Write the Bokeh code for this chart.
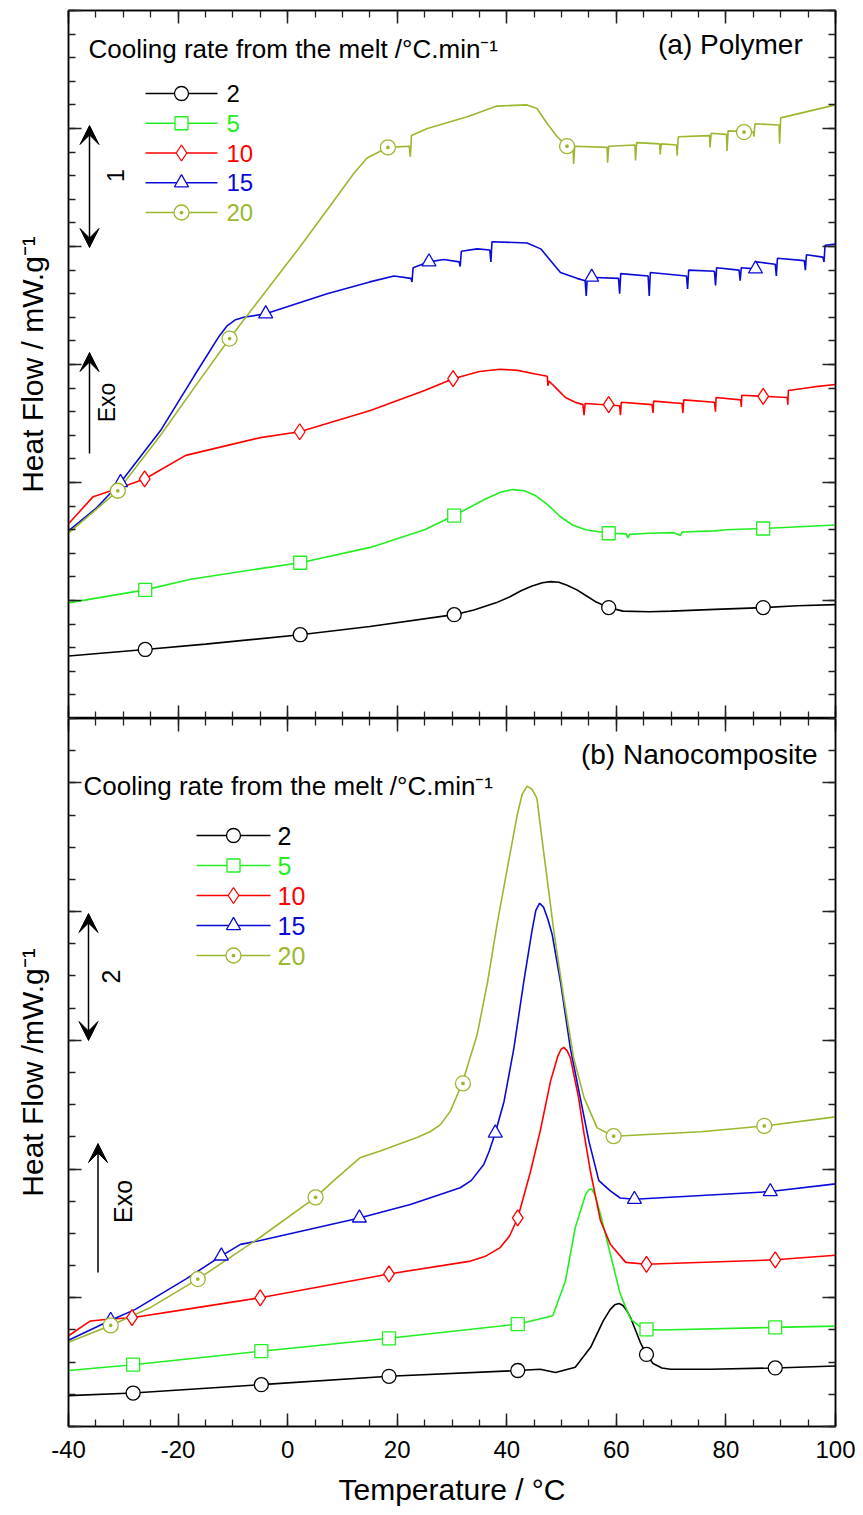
import numpy as np
from bokeh.plotting import figure
from bokeh.models import (Range1d, LinearAxis, SingleIntervalTicker, Label, Arrow,
                          VeeHead, CustomJSTickFormatter)
from bokeh.layouts import column
from bokeh.embed import file_html
from bokeh.resources import INLINE

# ---------------- data ----------------
rates = ["2", "5", "10", "15", "20"]
colors = ["#000000", "#22EE22", "#FF0000", "#0A0AD8", "#9AB82E"]
marker_types = ["circle", "square", "diamond", "triangle", "circle_dot"]
x_ticks = [-40, -20, 0, 20, 40, 60, 80, 100]

# (a) Polymer
a2_T = [-40, -26, -15, 2.3, 15, 30.4, 34, 38, 40.5, 42.5, 44.5, 46.5, 48, 49.5, 51, 52.8, 54.5, 56.2, 58.6, 61.2, 66, 70,
        78, 86.8, 93, 100]
a2_H = [0.53, 0.585, 0.63, 0.71, 0.78, 0.88, 0.92, 0.98, 1.03, 1.08, 1.12, 1.15, 1.16, 1.155, 1.13, 1.09, 1.04, 0.99, 0.94,
        0.91, 0.905, 0.91, 0.925, 0.94, 0.955, 0.965]
a2_mT = [-26, 2.3, 30.4, 58.6, 86.8]
a2_mH = [0.585, 0.71, 0.88, 0.94, 0.94]

a5_T = [-40, -26, -17.7, -5, 2.3, 15.1, 25, 30.4, 36.1, 39, 41.1, 43.2, 45.2, 47.5, 49.8, 52, 54.4, 58.6, 61.8, 62.1, 62.4, 66,
        70.5, 71.7, 72, 78, 80, 86.8, 100]
a5_H = [0.98, 1.09, 1.18, 1.27, 1.32, 1.45, 1.60, 1.72, 1.86, 1.92, 1.94, 1.93, 1.89, 1.81, 1.71, 1.64, 1.60, 1.57, 1.565, 1.53,
        1.56, 1.57, 1.575, 1.55, 1.58, 1.59, 1.60, 1.61, 1.64]
a5_mT = [-26, 2.3, 30.4, 58.6, 86.8]
a5_mH = [1.09, 1.32, 1.72, 1.57, 1.61]

a10_T = [-40, -35.5, -31, -26.1, -18.6, -12.3, -5, 2.2, 15.1, 25, 30.2, 35, 38.8, 42, 45.2, 47.4, 47.5, 47.7, 49, 50.7,
         52.5, 53.9, 54.1, 54.3, 60.6, 60.75, 60.9, 66.5, 66.7, 66.8, 72.0, 72.15, 72.3, 77.9, 78.1, 78.2, 82.7, 82.8,
         82.9, 91.2, 91.3, 91.4, 96, 100]
a10_H = [1.65, 1.88, 1.95, 2.03, 2.23, 2.30, 2.38, 2.43, 2.61, 2.78, 2.88, 2.94, 2.96, 2.95, 2.92, 2.90, 2.82, 2.86, 2.80, 2.72,
         2.68, 2.66, 2.57, 2.67, 2.65, 2.57, 2.68, 2.66, 2.59, 2.69, 2.67, 2.59, 2.70, 2.68, 2.60, 2.72, 2.70, 2.64,
         2.74, 2.72, 2.66, 2.78, 2.81, 2.83]
a10_mT = [-26.1, 2.2, 30.2, 58.6, 86.8]
a10_mH = [2.03, 2.43, 2.88, 2.66, 2.73]

a15_T = [-40, -35, -30.5, -23.2, -17.1, -12.5, -11, -9.5, -8, -4.0, 7.2, 15, 19.4, 22.5, 22.7, 22.9, 25.8, 28.5, 31.3, 31.5,
         31.7, 34.6, 36.9, 37.1, 37.3, 43.7, 46.2, 48.0, 49.8, 52.8, 54.3, 54.5, 54.7, 60.4, 60.6, 60.8, 65.8, 66.0,
         66.2, 72.8, 73.0, 73.2, 77.9, 78.1, 78.3, 82.4, 82.6, 82.8, 85.4, 85.5, 89.0, 89.2, 89.4, 94.3, 94.5, 94.7,
         97.7, 97.9, 98.1, 100]
a15_H = [1.59, 1.78, 2.0, 2.44, 2.90, 3.24, 3.33, 3.38, 3.40, 3.43, 3.60, 3.70, 3.75, 3.73, 3.70, 3.82, 3.87, 3.89, 3.87,
         3.83, 3.96, 3.98, 3.97, 3.87, 4.04, 4.03, 3.98, 3.88, 3.78, 3.73, 3.71, 3.58, 3.74, 3.73, 3.60, 3.77, 3.75,
         3.58, 3.78, 3.75, 3.64, 3.80, 3.79, 3.67, 3.82, 3.80, 3.71, 3.82, 3.81, 3.87, 3.85, 3.75, 3.90, 3.88, 3.80,
         3.93, 3.91, 3.87, 4.01, 4.02]
a15_mT = [-30.5, -4.0, 25.8, 55.5, 85.4]
a15_mH = [2.0, 3.43, 3.87, 3.74, 3.81]

a20_T = [-40, -31, -23.2, -17.1, -10.6, -5.0, 2.3, 7.2, 12.1, 14.5, 17.0, 18.3, 22.2, 22.4, 22.6, 25.5, 32.8, 38.2,
         43.7, 45.5, 47.4, 49.2, 51.0, 52.1, 52.2, 52.4, 58.3, 58.4, 58.6, 63.4, 63.5, 63.7, 67.9, 68.0, 68.2, 71.0,
         71.1, 71.3, 77.0, 77.1, 77.3, 80.1, 80.2, 80.4, 85.0, 85.1, 85.3, 89.7, 89.8, 90.0, 100]
a20_H = [1.57, 1.93, 2.40, 2.80, 3.22, 3.56, 4.00, 4.31, 4.62, 4.75, 4.81, 4.84, 4.85, 4.76, 4.94, 5.0, 5.10, 5.19,
         5.20, 5.17, 5.04, 4.93, 4.85, 4.82, 4.70, 4.85, 4.84, 4.71, 4.85, 4.86, 4.73, 4.88, 4.87, 4.78, 4.87,
         4.86, 4.77, 4.93, 4.94, 4.84, 4.96, 4.95, 4.81, 4.98, 4.97, 4.93, 5.04, 5.03, 4.87, 5.09, 5.20]
a20_mT = [-31, -10.6, 18.3, 51.0, 83.3]
a20_mH = [1.93, 3.22, 4.84, 4.85, 4.97]

# (b) Nanocomposite
b2_T = [-40, -28.2, -4.8, 18.5, 42.0, 46.1, 48.9, 52.5, 55.3, 57.6, 58.9, 59.7, 60.5, 61.2, 61.9, 62.6, 64.4, 65.5, 66.7,
        68.3, 69.9, 77.2, 89.0, 100]
b2_H = [0.48, 0.52, 0.65, 0.78, 0.87, 0.89, 0.84, 0.92, 1.23, 1.64, 1.82, 1.89, 1.91, 1.88, 1.80, 1.69, 1.30, 1.12, 0.98,
        0.91, 0.89, 0.89, 0.91, 0.94]
b2_mT = [-28.2, -4.8, 18.5, 42.0, 65.5, 89.0]
b2_mH = [0.52, 0.65, 0.78, 0.87, 1.12, 0.91]

b5_T = [-40, -28.2, -4.8, 18.5, 42.0, 48.4, 50.7, 52.5, 54.4, 55.0, 55.5, 56.1, 57.1, 58.9, 60.7, 62.6, 64.9, 68.0, 89.0, 100]
b5_H = [0.87, 0.96, 1.17, 1.37, 1.59, 1.72, 2.26, 3.09, 3.61, 3.68, 3.69, 3.60, 3.30, 2.68, 2.06, 1.67, 1.51, 1.50, 1.54, 1.56]
b5_mT = [-28.2, -4.8, 18.5, 42.0, 65.5, 89.0]
b5_mH = [0.96, 1.17, 1.37, 1.59, 1.51, 1.54]

b10_T = [-40, -36.0, -32.3, -28.4, -18.6, -5.0, 18.5, 33.4, 36.0, 38.8, 40.5, 42.0, 44.3, 46.1, 48.0, 49.3, 49.9, 50.4,
         51.0, 51.6, 53.1, 54.1, 55.3, 57.1, 58.9, 61.7, 65.5, 89.0, 100]
b10_H = [1.41, 1.64, 1.67, 1.69, 1.82, 2.00, 2.37, 2.57, 2.64, 2.78, 2.96, 3.24, 3.95, 4.59, 5.37, 5.75, 5.86, 5.89,
         5.84, 5.73, 5.11, 4.55, 3.95, 3.20, 2.83, 2.55, 2.52, 2.59, 2.66]
b10_mT = [-28.4, -5.0, 18.5, 42.0, 65.5, 89.0]
b10_mH = [1.69, 2.00, 2.37, 3.24, 2.52, 2.59]

b15_T = [-40, -32.3, -27.8, -18.6, -12.1, -8.6, -5.0, 13.1, 22.4, 31.5, 33.5, 35.8, 36.8, 37.9, 39.5, 41.3, 43.1, 44.6,
         45.3, 46.0, 46.7, 47.5, 48.3, 49.8, 51.6, 53.4, 55.0, 56.8, 58.9, 60.7, 63.3, 88.1, 100]
b15_H = [1.34, 1.65, 1.82, 2.29, 2.65, 2.83, 2.89, 3.24, 3.45, 3.71, 3.82, 4.07, 4.28, 4.56, 5.05, 5.88, 6.91, 7.70,
         8.02, 8.13, 8.07, 7.88, 7.64, 6.91, 5.88, 5.11, 4.43, 3.82, 3.66, 3.55, 3.53, 3.65, 3.77]
b15_mT = [-32.3, -12.1, 13.1, 37.9, 63.3, 88.1]
b15_mH = [1.65, 2.65, 3.24, 4.56, 3.53, 3.65]

b20_T = [-40, -32.3, -25.0, -16.4, -5.0, 5.1, 8.4, 13.3, 16.9, 23.6, 26.0, 27.9, 29.7, 30.8, 31.9, 34.6, 36.5, 38.3,
         40.1, 41.9, 42.8, 43.7, 44.6, 45.5, 46.8, 48.6, 50.4, 52.2, 54.1, 56.5, 59.5, 75.4, 87.0, 100]
b20_H = [1.31, 1.57, 1.85, 2.29, 2.94, 3.56, 3.82, 4.18, 4.28, 4.49, 4.58, 4.69, 4.90, 5.12, 5.34, 6.09, 6.91, 7.84,
         8.67, 9.50, 9.82, 9.95, 9.90, 9.76, 8.88, 7.69, 6.66, 5.73, 5.11, 4.64, 4.51, 4.58, 4.67, 4.81]
b20_mT = [-32.3, -16.4, 5.1, 32.0, 59.5, 87.0]
b20_mH = [1.57, 2.29, 3.56, 5.33, 4.51, 4.67]

# ---------------- layout constants ----------------
FONT = "Liberation Sans"
FRAME_W, FRAME_H = 767, 708
LEFT, TOP0 = 68, 10          # page pixel position of top frame's top-left corner
X0, X1 = -40, 100
YMAX_A, YMAX_B = 6, 11


def px_x(px):
    return X0 + (px - LEFT) * (X1 - X0) / FRAME_W


def py_a(py):
    return (TOP0 + FRAME_H - py) * YMAX_A / FRAME_H


def py_b(py):
    return (TOP0 + 2 * FRAME_H - py) * YMAX_B / FRAME_H


def style_axis(ax, labels=False):
    ax.major_tick_in = 13
    ax.major_tick_out = 0
    ax.minor_tick_in = 7
    ax.minor_tick_out = 0
    ax.major_tick_line_color = "#222222"
    ax.minor_tick_line_color = "#222222"
    ax.major_tick_line_width = 1.5
    ax.minor_tick_line_width = 1.3
    ax.axis_line_color = "black"
    ax.axis_line_width = 1.5
    if labels:
        ax.major_label_text_font = FONT
        ax.major_label_text_font_size = "24px"
        ax.major_label_text_color = "black"
        ax.major_label_standoff = 14
        ax.formatter = CustomJSTickFormatter(code="return tick.toFixed(0)")
    else:
        ax.major_label_text_font_size = "0px"
        ax.major_label_standoff = 0
        ax.formatter = CustomJSTickFormatter(code="return ''")


def make_fig(ymax, yint, yminor, ylabel, bottom_labels, border_top, border_bottom):
    p = figure(x_range=Range1d(X0, X1), y_range=Range1d(0, ymax),
               frame_width=FRAME_W, frame_height=FRAME_H,
               output_backend="svg", toolbar_location=None,
               min_border_left=LEFT, min_border_right=20,
               min_border_top=border_top, min_border_bottom=border_bottom,
               background_fill_color="white", border_fill_color="white")
    p.xgrid.visible = False
    p.ygrid.visible = False
    p.outline_line_color = "black"
    p.outline_line_width = 1.5
    xt = SingleIntervalTicker(interval=20, num_minor_ticks=4)
    yt = SingleIntervalTicker(interval=yint, num_minor_ticks=yminor)
    bx = p.below[0]
    ly = p.left[0]
    bx.ticker = xt
    ly.ticker = yt
    style_axis(bx, labels=bottom_labels)
    style_axis(ly, labels=False)
    ly.axis_label = ylabel
    ly.axis_label_text_font = FONT
    ly.axis_label_text_font_size = "30px"
    ly.axis_label_text_font_style = "normal"
    ly.axis_label_text_color = "black"
    ly.axis_label_standoff = 20
    right = LinearAxis(ticker=yt)
    style_axis(right)
    p.add_layout(right, "right")
    above = LinearAxis(ticker=xt)
    style_axis(above)
    p.add_layout(above, "above")
    return p, bx


def msize(mk):
    return {"circle": 14, "square": 13, "diamond": 16, "triangle": 14, "circle_dot": 15}[mk]


def draw_series(p, curves, marks):
    for (T, H), c in zip(curves, colors):
        p.line(T, H, line_color=c, line_width=1.6)
    for (mT, mH), c, mk in zip(marks, colors, marker_types):
        p.scatter(mT, mH, marker=mk, size=msize(mk), line_color=c, fill_color="white", line_width=1.3)


def draw_legend(p, conv, x1, x2, xm, xt, row0, dy, fsize):
    for i, (name, c, mk) in enumerate(zip(rates, colors, marker_types)):
        yy = conv(row0 + i * dy)
        p.line([px_x(x1), px_x(x2)], [yy, yy], line_color=c, line_width=1.5)
        p.scatter([px_x(xm)], [yy], marker=mk, size=msize(mk), line_color=c, fill_color="white", line_width=1.3)
        p.add_layout(Label(x=px_x(xt), y=yy, text=name, text_color=c, text_font=FONT,
                           text_font_size=fsize, text_align="left", text_baseline="middle"))


def text(p, x, y, s, size, align="left", angle=0.0):
    p.add_layout(Label(x=x, y=y, text=s, text_font=FONT, text_font_size=size, text_color="black",
                       text_align=align, text_baseline="middle", angle=angle))


def arrow(p, x, y0, y1, double):
    head = dict(size=19, fill_color="black", line_color="black", line_width=1)
    p.add_layout(Arrow(x_start=x, y_start=y0, x_end=x, y_end=y1, line_width=1.5, line_color="black",
                       end=VeeHead(**head), start=VeeHead(**head) if double else None))


# ---------------- panel (a) ----------------
pa, _ = make_fig(YMAX_A, 1, 5, "Heat Flow / mW.g\u207b\u00b9", False, TOP0, 0)
draw_series(pa,
            [(a2_T, a2_H), (a5_T, a5_H), (a10_T, a10_H), (a15_T, a15_H), (a20_T, a20_H)],
            [(a2_mT, a2_mH), (a5_mT, a5_mH), (a10_mT, a10_mH), (a15_mT, a15_mH), (a20_mT, a20_mH)])
draw_legend(pa, py_a, 145, 217, 181, 226, 93, 29.75, "24px")
text(pa, px_x(88), py_a(48), "Cooling rate from the melt /\u00b0C.min\u207b\u00b9", "26px")
text(pa, px_x(810), py_a(44), "(a)  Polymer", "28px", align="right")
arrow(pa, px_x(89), py_a(247), py_a(125), True)
text(pa, px_x(115), py_a(175), "1", "23px", align="center", angle=np.pi / 2)
arrow(pa, px_x(89), py_a(453), py_a(352), False)
text(pa, px_x(106), py_a(402), "Exo", "23px", align="center", angle=np.pi / 2)

# ---------------- panel (b) ----------------
pb, pb_x = make_fig(YMAX_B, 2, 4, "Heat Flow /mW.g\u207b\u00b9", True, 0, 87)
pb_x.axis_label = "Temperature / \u00b0C"
pb_x.axis_label_text_font = FONT
pb_x.axis_label_text_font_size = "30px"
pb_x.axis_label_text_font_style = "normal"
pb_x.axis_label_text_color = "black"
pb_x.axis_label_standoff = 12
draw_series(pb,
            [(b2_T, b2_H), (b5_T, b5_H), (b10_T, b10_H), (b15_T, b15_H), (b20_T, b20_H)],
            [(b2_mT, b2_mH), (b5_mT, b5_mH), (b10_mT, b10_mH), (b15_mT, b15_mH), (b20_mT, b20_mH)])
draw_legend(pb, py_b, 196, 270, 233, 277, 835, 30, "25px")
text(pb, px_x(83), py_b(785), "Cooling rate from the melt /\u00b0C.min\u207b\u00b9", "26px")
text(pb, px_x(817), py_b(754), "(b) Nanocomposite", "28px", align="right")
arrow(pb, px_x(88), py_b(1040), py_b(913), True)
text(pb, px_x(110), py_b(976), "2", "25px", align="center", angle=np.pi / 2)
arrow(pb, px_x(97.5), py_b(1272), py_b(1143), False)
text(pb, px_x(122), py_b(1201), "Exo", "25px", align="center", angle=np.pi / 2)

layout = column(pa, pb, spacing=0)
open("out.html", "w").write(file_html(layout, INLINE))
